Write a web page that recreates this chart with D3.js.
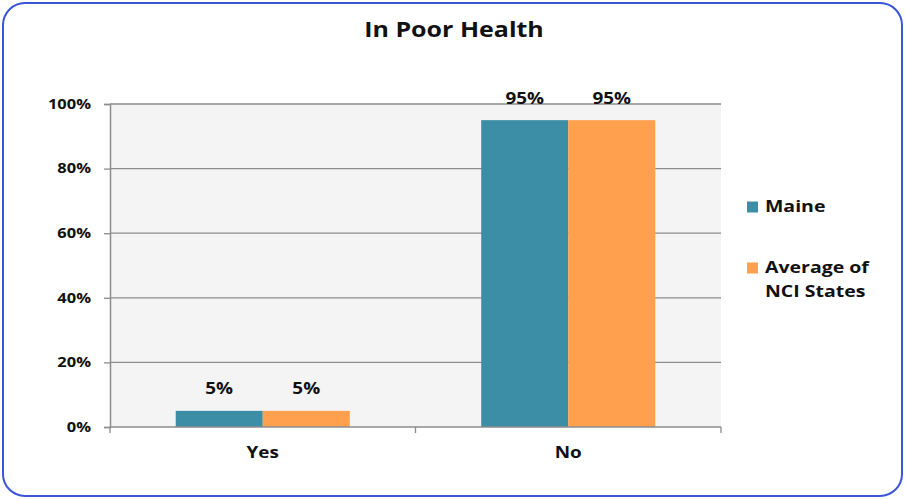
<!DOCTYPE html>
<html><head><meta charset="utf-8">
<script src="https://cdn.jsdelivr.net/npm/d3@7"></script>
<style>html,body{margin:0;padding:0;background:#fff;}svg{display:block;font-family:"Open Sans",Lato,sans-serif;}</style>
</head><body>
<svg id="c" width="905" height="499"></svg>
<script>
const categories = ["Yes", "No"];
const seriesNames = ["Maine", "Average of NCI States"];
const maine = [5, 95];
const nci = [5, 95];
const yTicks = [0, 20, 40, 60, 80, 100];
const colors = ["#3B8EA6", "#FFA04F"];

const SX = 1.22;
function stretch(sel) {
  sel.each(function () {
    const t = d3.select(this);
    const ax = (parseFloat(t.attr("x")) || 0) + (parseFloat(t.attr("dx")) || 0);
    t.attr("transform", `translate(${ax},0) scale(${SX},1) translate(${-ax},0)`);
  });
}

const svg = d3.select("#c");
svg.append("rect").attr("x", 3).attr("y", 3).attr("width", 899).attr("height", 493)
  .attr("rx", 22).attr("fill", "#fff").attr("stroke", "#3a55d8").attr("stroke-width", 2);

svg.append("text").attr("x", 454).attr("y", 37).attr("text-anchor", "middle")
  .attr("font-size", 20.5).attr("font-weight", "bold").attr("fill", "#111").text("In Poor Health").call(stretch);

const m = {l: 110, r: 721, t: 104, b: 427};
const x = d3.scaleBand().domain(categories).range([m.l, m.r]).paddingInner(0).paddingOuter(0);
const x1 = d3.scaleBand().domain(seriesNames).range([0, x.bandwidth()]).paddingInner(0).paddingOuter(0.755);
const y = d3.scaleLinear().domain([0, 100]).range([m.b, m.t]);

svg.append("rect").attr("x", m.l).attr("y", m.t).attr("width", m.r - m.l).attr("height", m.b - m.t).attr("fill", "#f4f4f4");

// gridlines
svg.append("g").selectAll("line").data(yTicks.filter(d => d > 0)).join("line")
  .attr("x1", m.l).attr("x2", m.r).attr("y1", d => y(d)).attr("y2", d => y(d))
  .attr("stroke", "#8c8c8c").attr("stroke-width", 1.3);

// y axis
const yAxis = d3.axisLeft(y).tickValues(yTicks).tickFormat(d => d + "%").tickSize(6).tickPadding(13);
const gy = svg.append("g").attr("transform", `translate(${m.l},0)`).call(yAxis);
gy.select(".domain").attr("stroke", "#8c8c8c").attr("stroke-width", 1.5);
gy.selectAll(".tick line").attr("stroke", "#8c8c8c").attr("stroke-width", 1.3);
gy.selectAll("text").attr("font-size", 13.5).attr("font-weight", "bold").attr("fill", "#111")
  .attr("font-family", "'Open Sans', sans-serif").call(stretch);

// bars
const data = categories.map((c, i) => ({c, vals: [maine[i], nci[i]]}));
const g = svg.append("g");
data.forEach(d => {
  d.vals.forEach((v, j) => {
    const bx = x(d.c) + x1(seriesNames[j]);
    g.append("rect").attr("x", bx).attr("y", y(v)).attr("width", x1.bandwidth()).attr("height", y(0) - y(v)).attr("fill", colors[j]);
    g.append("text").attr("x", bx + x1.bandwidth() / 2).attr("y", y(v) - 16.5)
      .attr("text-anchor", "middle").attr("font-size", 15.5).attr("font-weight", "bold").attr("fill", "#111").text(v + "%").call(stretch);
  });
});

// x axis
const gx = svg.append("g").attr("transform", `translate(0,${m.b})`);
gx.append("line").attr("x1", m.l).attr("x2", m.r).attr("stroke", "#8c8c8c").attr("stroke-width", 1.5);
const xb = [m.l].concat(categories.map(c => x(c) + x.bandwidth()));
gx.selectAll(".tk").data(xb).join("line").attr("x1", d => d).attr("x2", d => d).attr("y1", 0).attr("y2", 6)
  .attr("stroke", "#8c8c8c").attr("stroke-width", 1.3);
gx.selectAll(".lb").data(categories).join("text").attr("x", d => x(d) + x.bandwidth() / 2).attr("y", 31)
  .attr("text-anchor", "middle").attr("font-size", 15.5).attr("font-weight", "bold").attr("fill", "#111").text(d => d).call(stretch);

// legend
const leg = svg.append("g");
const legLines = [["Maine"], ["Average of", "NCI States"]];
const legY = [207, 268];
legLines.forEach((lines, i) => {
  leg.append("rect").attr("x", 747).attr("y", legY[i] - 5.5).attr("width", 11).attr("height", 11).attr("fill", colors[i]);
  lines.forEach((t, k) => {
    leg.append("text").attr("x", 765).attr("y", legY[i] + 5.5 + k * 23.5).attr("font-size", 16).attr("font-weight", "bold").attr("fill", "#111").text(t).call(stretch);
  });
});
</script>
</body></html>
